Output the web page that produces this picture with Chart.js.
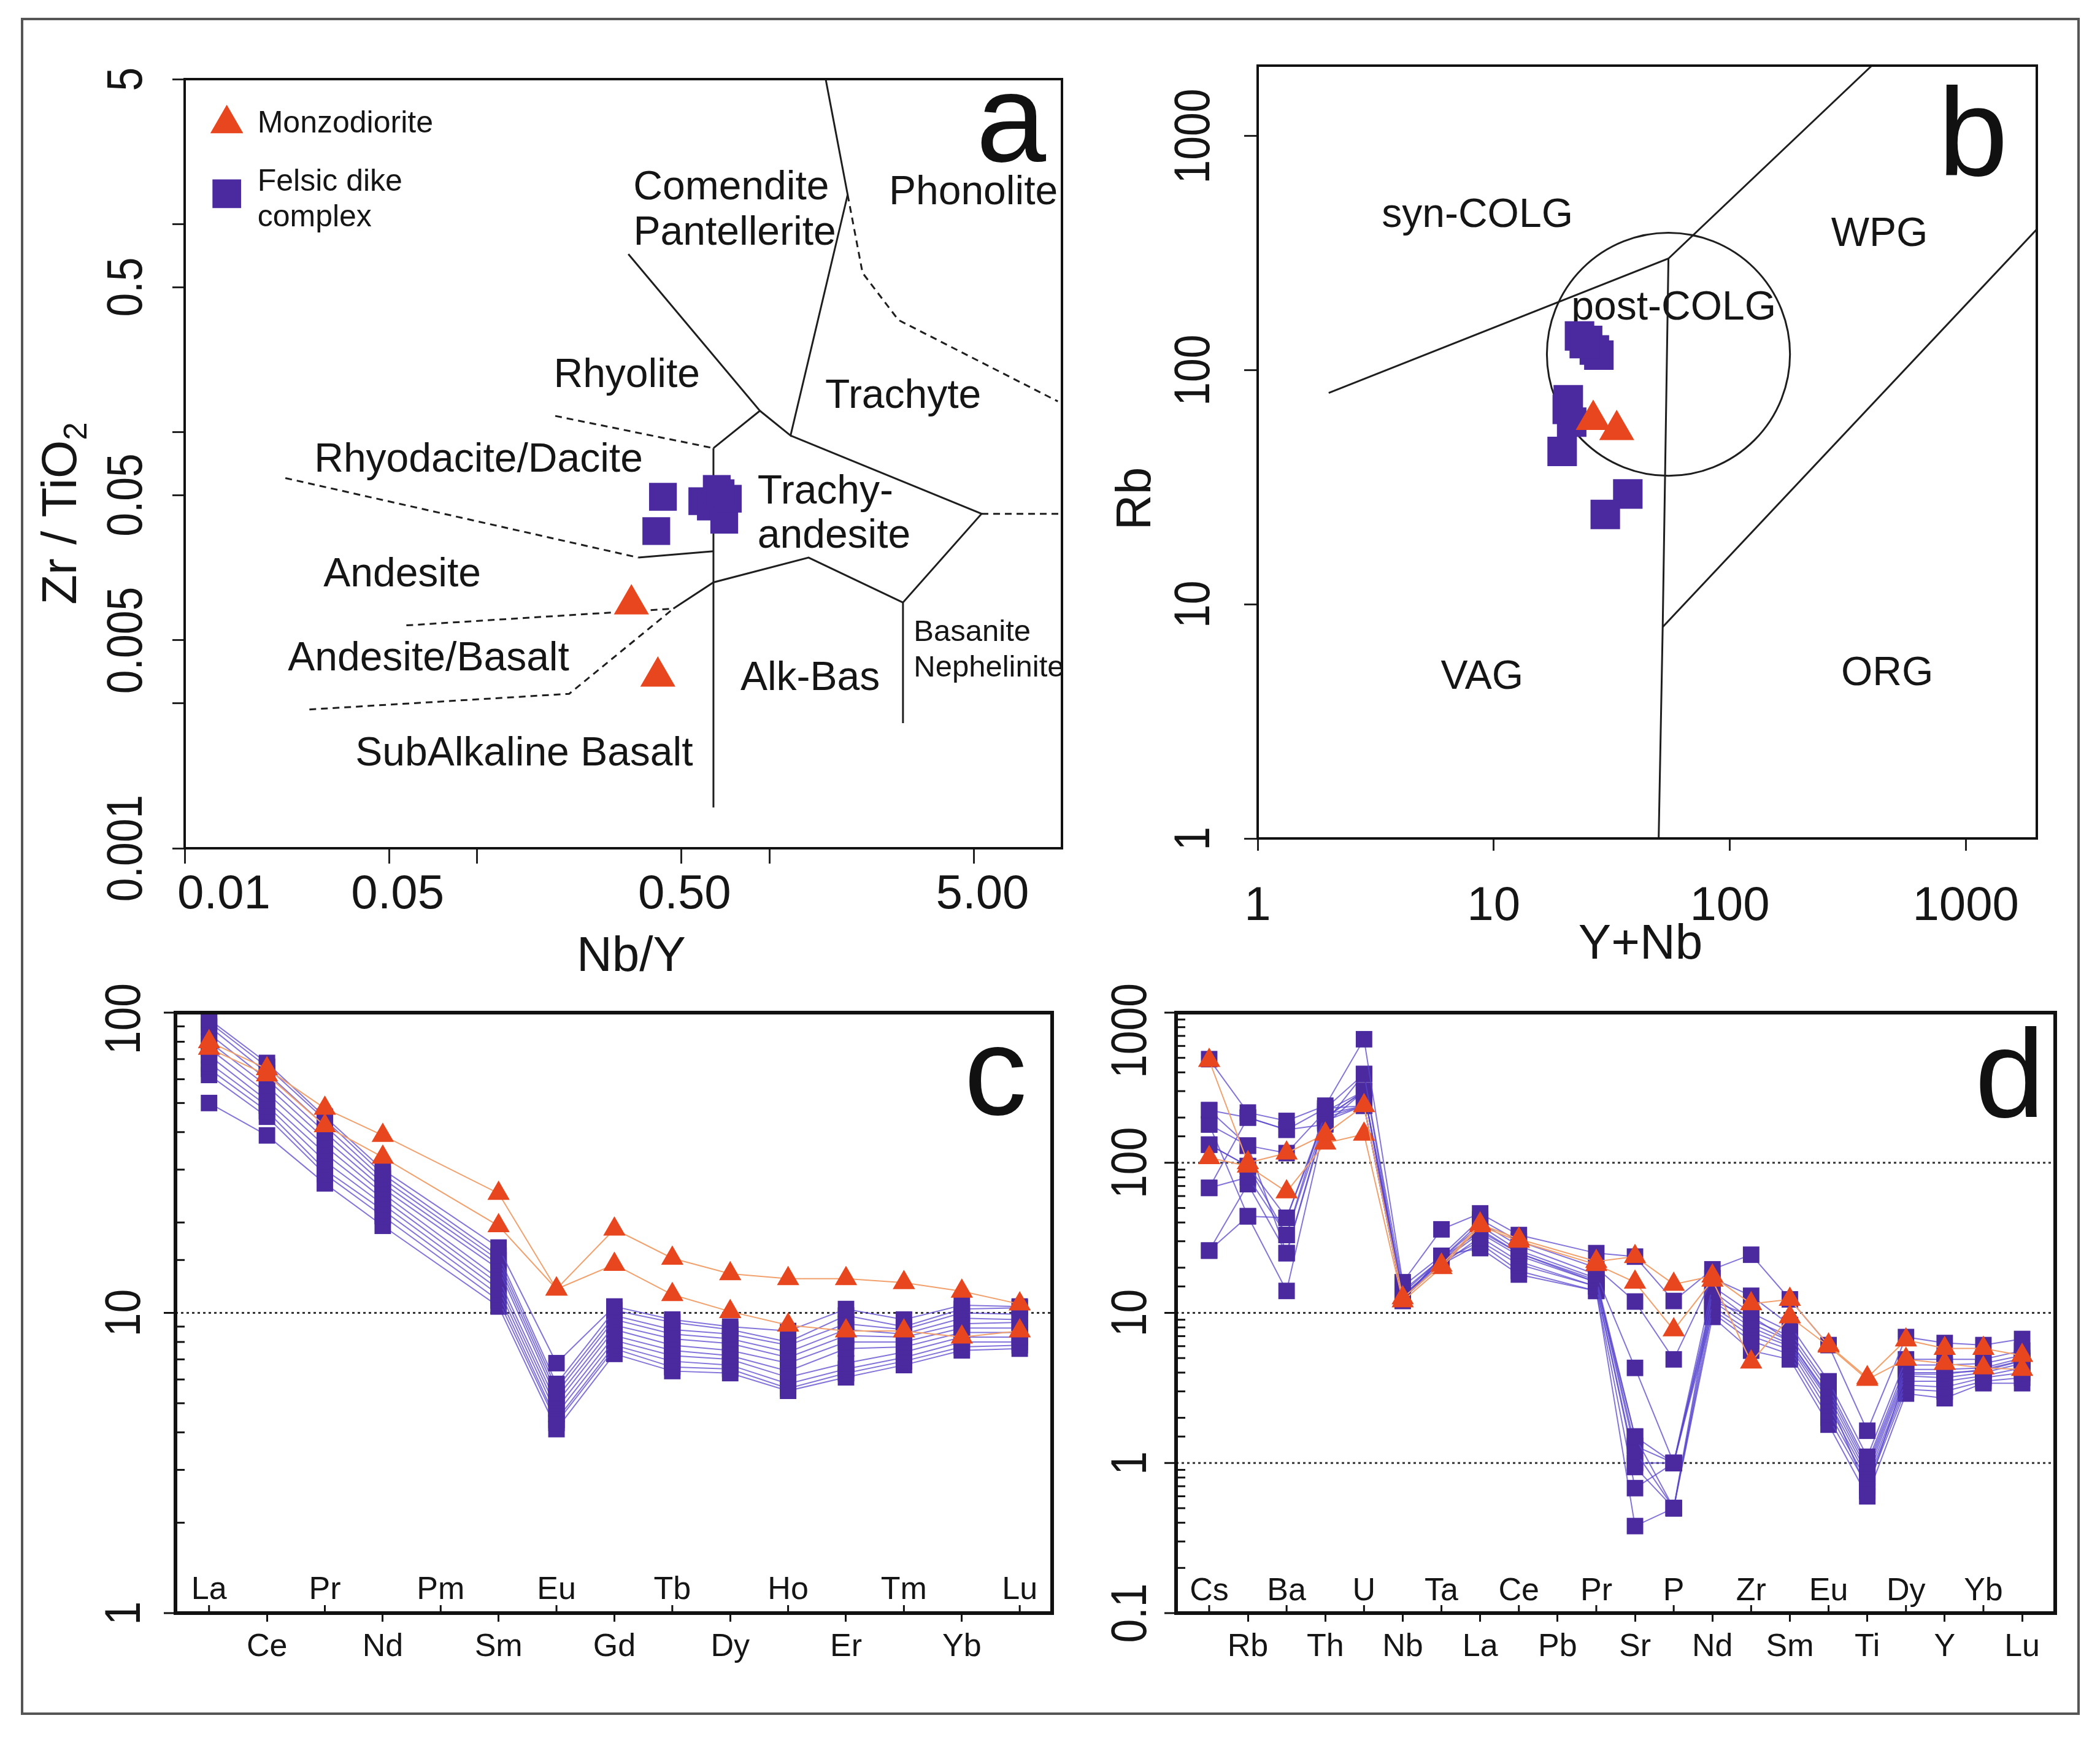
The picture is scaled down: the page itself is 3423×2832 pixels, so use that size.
<!DOCTYPE html>
<html>
<head>
<meta charset="utf-8">
<script src="https://cdn.jsdelivr.net/npm/chart.js@4.4.1/dist/chart.umd.min.js"></script>
<style>
  html, body { margin: 0; padding: 0; background: #fff; }
  body { width: 3423px; height: 2832px; position: relative; overflow: hidden; }
  #frame { position: absolute; left: 34px; top: 29px; width: 3356px; height: 2767px; border: 4px solid #555; box-sizing: border-box; }
  .panel { position: absolute; }
</style>
</head>
<body>
<div id="frame"></div>
<div class="panel" style="left:40px;top:40px;width:1740px;height:1560px"><canvas id="chartA"></canvas></div>
<div class="panel" style="left:1790px;top:40px;width:1600px;height:1560px"><canvas id="chartB"></canvas></div>
<div class="panel" style="left:40px;top:1520px;width:1760px;height:1270px"><canvas id="chartC"></canvas></div>
<div class="panel" style="left:1800px;top:1520px;width:1588px;height:1270px"><canvas id="chartD"></canvas></div>
<script>
// ---- panel a: Zr/TiO2 vs Nb/Y ----
const nbyMonzodiorite = [0.337, 0.415];
const zrtiMonzodiorite = [0.0149, 0.0067];
const nbyFelsic = [0.432, 0.41, 0.589, 0.63, 0.66, 0.70, 0.72, 0.68];
const zrtiFelsic = [0.049, 0.0335, 0.0467, 0.044, 0.0535, 0.038, 0.048, 0.051];
const aTickX = [0.01, 0.05, 0.1, 0.5, 1, 5];
const aTickXText = ["0.01", "0.05", "", "0.50", "", "5.00"];
const aTickY = [0.001, 0.005, 0.01, 0.05, 0.1, 0.5, 1, 5];
const aTickYText = ["0.001", "", "0.005", "0.05", "", "0.5", "", "5"];
// field boundaries, [Nb/Y, Zr/TiO2]
const aSolid = [
  [[0.643, 0.084], [0.643, 0.00157]],
  [[0.329, 0.72], [0.927, 0.127], [0.643, 0.084]],
  [[0.927, 0.127], [1.18, 0.0966], [1.85, 1.39], [1.556, 5]],
  [[1.18, 0.0966], [5.31, 0.0406], [2.86, 0.0152], [2.86, 0.004]],
  [[2.86, 0.0152], [1.36, 0.025], [0.643, 0.019], [0.469, 0.0142]],
  [[0.643, 0.0268], [0.356, 0.025]],
];
const aDashed = [
  [[0.185, 0.12], [0.643, 0.084]],
  [[0.0221, 0.0603], [0.356, 0.025]],
  [[0.0573, 0.0118], [0.469, 0.0142]],
  [[0.0267, 0.00465], [0.2065, 0.00553], [0.469, 0.0142]],
  [[1.85, 1.39], [2.08, 0.585], [2.76, 0.347], [9.68, 0.141]],
  [[5.31, 0.0406], [10, 0.0406]],
];

// ---- panel b: Rb vs Y+Nb ----
const ynbMonzodiorite = [26.4, 33.2];
const rbMonzodiorite = [61.4, 55.6];
const ynbFelsic = [23.1, 25, 26.7, 27.9, 24.2, 20.7, 21.4, 19.5, 37, 29.7, 20.5];
const rbFelsic = [140, 134, 122, 116, 130, 74.8, 60, 45, 29.6, 24.2, 68];
const bTicks = [1, 10, 100, 1000];
const bLines = [
  [[2, 80], [55, 300], [400, 2000]],
  [[55, 300], [52, 8], [50, 1]],
  [[52, 8], [2000, 400]],
];
const postColg = { x: 55, y: 117, r: 0.515 };

// ---- panel c: chondrite-normalised REE ----
const reeElements = ["La", "Ce", "Pr", "Nd", "Pm", "Sm", "Eu", "Gd", "Tb", "Dy", "Ho", "Er", "Tm", "Yb", "Lu"];
const reeMonzodiorite = [
  [80, 65, 48, 39, null, 25, 12, 19, 15.2, 13.5, 13, 13, 12.6, 11.8, 10.7],
  [76, 62, 42, 33, null, 19.5, 12, 14.5, 11.5, 10.1, 9.1, 8.7, 8.7, 8.3, 8.7],
];
const reeFelsic = [
  [95, 68, 45, 30, null, 16.5, 6.8, 10.5, 9.5, 9.0, 8.7, 10.3, 9.5, 10.6, 10.5],
  [93, 66, 44, 29, null, 15.5, 5.8, 10.2, 9.3, 8.8, 8.0, 9.8, 9.0, 10.3, 10.4],
  [90, 63, 42, 28, null, 15, 5.6, 9.8, 8.8, 8.5, 7.8, 9.2, 8.8, 10.0, 9.9],
  [85, 60, 40, 27, null, 14.5, 5.4, 9.5, 8.5, 8.2, 7.4, 8.8, 8.5, 9.6, 9.5],
  [80, 57, 38, 26, null, 14, 5.2, 9.1, 8.2, 7.9, 7.1, 8.4, 8.3, 9.2, 9.3],
  [76, 54, 36, 25, null, 13, 5.0, 8.8, 7.8, 7.5, 6.8, 8.0, 8.0, 8.9, 8.9],
  [72, 51, 34, 24, null, 12.5, 4.8, 8.4, 7.5, 7.2, 6.4, 7.6, 7.7, 8.6, 8.6],
  [68, 49, 32, 23, null, 12, 4.6, 8.1, 7.2, 7.0, 6.1, 6.8, 7.4, 8.3, 8.3],
  [65, 47, 30, 22, null, 11.5, 4.4, 7.8, 6.9, 6.7, 5.8, 6.5, 7.1, 8.0, 8.0],
  [62, 45, 29, 21, null, 11, 4.3, 7.6, 6.6, 6.5, 5.6, 6.3, 6.9, 7.7, 7.8],
  [50, 39, 27, 19.5, null, 10.5, 4.1, 7.3, 6.4, 6.3, 5.5, 6.1, 6.7, 7.5, 7.6],
];
const cTickY = [1, 10, 100];
const cTickYText = ["1", "10", "100"];

// ---- panel d: primitive-mantle spider diagram ----
const spiderElements = ["Cs", "Rb", "Ba", "Th", "U", "Nb", "Ta", "La", "Ce", "Pb", "Pr", "Sr", "P", "Nd", "Zr", "Sm", "Eu", "Ti", "Dy", "Y", "Yb", "Lu"];
const spiderMonzodiorite = [
  [480, 100, 116, 155, 240, 12.6, 20.8, 39, 31, null, 22, 23.7, 15.5, 17.6, 11.5, 12.3, 6.1, 3.7, 6.6, 5.8, 5.8, 5.2],
  [108, 95, 64, 135, 155, 12, 20, 38, 30, null, 21, 16, 7.7, 16.5, 4.7, 9.4, 6.0, 3.6, 4.9, 4.6, 4.3, 4.2],
];
const spiderFelsic = [
  [490, 216, 190, 240, 665, 16, 36, 46, 33, null, 25, 23.7, 12, 19.5, 24.4, 12.3, 6.1, 1.64, 6.9, 6.3, 6.1, 6.7],
  [224, 200, 166, 230, 390, 15, 24, 42, 30, null, 20, 11.9, 4.9, 17, 13, 8.3, 3.5, 1.1, 4.9, 4.9, 4.9, 5.6],
  [180, 130, 116, 220, 300, 14, 23, 40, 28, null, 18, 4.3, 1.0, 15, 10, 7.5, 3.2, 1.0, 4.5, 4.5, 4.6, 5.2],
  [132, 95, 43, 210, 240, 13.5, 23, 38, 26, null, 17, 1.5, 0.5, 14, 9, 7, 3.0, 0.95, 4.2, 4.2, 4.3, 5.0],
  [68, 80, 33, 200, 300, 13, 22, 36, 25, null, 16.5, 1.3, 1.0, 13, 8.5, 6.5, 2.8, 0.9, 4.0, 4.0, 4.1, 4.8],
  [26, 72, 25, 190, 240, 12.5, 22, 34, 24, null, 16, 1.2, 0.5, 12, 8, 6.2, 2.6, 0.85, 3.8, 3.7, 4.0, 4.6],
  [180, 44, 14, 185, 390, 12.5, 21, 32, 22, null, 15, 1.0, 1.0, 11, 7.5, 6, 2.4, 0.8, 3.5, 3.5, 3.8, 4.3],
  [224, 130, 25, 200, 300, 13, 22, 30, 21, null, 15, 0.94, 0.5, 10.5, 7, 5.7, 2.2, 0.75, 3.3, 3.2, 3.7, 4.0],
  [132, 95, 33, 230, 240, 12.5, 21, 29, 19, null, 14, 0.68, 1.0, 10, 6.5, 5.3, 2.0, 0.7, 3.1, 3.0, 3.5, 3.7],
  [68, 200, 166, 180, 300, 12, 24, 27, 18, null, 14, 0.38, 0.5, 9.4, 5.6, 4.9, 1.8, 0.6, 2.9, 2.7, 3.4, 3.4],
  [26, 44, 43, 200, 240, 12.5, 23, 35, 25, null, 16, 1.5, 1.0, 12, 9.5, 6.5, 2.7, 0.65, 3.9, 3.9, 4.2, 4.8],
];
const dTickY = [0.1, 1, 10, 100, 1000];
const dTickYText = ["0.1", "1", "10", "100", "1000"];

const PURPLE = "#4a2a9e";
const ORANGE = "#e8461e";
const PURPLE_LINE = "rgba(88, 70, 205, 0.75)";
const ORANGE_LINE = "#f2a06c";
const FONT = "'Liberation Sans', Arial, Helvetica, sans-serif";
const INK = "#151515";

function pairs(xs, ys) {
  return xs.map((v, i) => ({ x: v, y: ys[i] }));
}
function profile(vals) {
  return vals.map((v, i) => ({ x: i, y: v }));
}
function boundary(line, dashed) {
  return {
    data: line.map((p) => ({ x: p[0], y: p[1] })),
    showLine: true,
    pointRadius: 0,
    borderColor: "#1e1e1e",
    borderWidth: 3,
    borderDash: dashed ? [11, 8] : [],
    tension: 0,
  };
}
function markers(data, style, color, r) {
  return {
    data: data,
    pointStyle: style,
    pointRadius: r,
    pointHoverRadius: r,
    backgroundColor: color,
    borderColor: color,
    pointBorderWidth: 0,
    showLine: false,
  };
}
function sampleLine(vals, style, color, lineColor, r) {
  return {
    data: profile(vals),
    showLine: true,
    spanGaps: true,
    pointStyle: style,
    pointRadius: r,
    pointHoverRadius: r,
    pointBackgroundColor: color,
    pointBorderColor: color,
    pointBorderWidth: 0,
    borderColor: lineColor,
    borderWidth: 2,
    tension: 0,
  };
}
function text(ctx, t, x, y, size, align) {
  ctx.font = size + "px " + FONT;
  ctx.fillStyle = INK;
  ctx.textAlign = align || "center";
  ctx.textBaseline = "middle";
  ctx.fillText(t, x, y);
}
function isPow10(v) {
  const l = Math.log10(v);
  return Math.abs(l - Math.round(l)) < 1e-6;
}

// draws frame, rotated y labels, titles, region names, legend etc.
function makeDecor(o) {
  return {
    id: "decor",
    beforeDatasetsDraw(chart) {
      const { ctx, chartArea: a } = chart;
      const x = chart.scales.x, y = chart.scales.y;
      ctx.save();
      if (o.dotted) {
        ctx.setLineDash([4, 5]);
        ctx.lineWidth = 3;
        ctx.strokeStyle = "#333";
        o.dotted.forEach((v) => {
          const py = y.getPixelForValue(v);
          ctx.beginPath();
          ctx.moveTo(a.left, py);
          ctx.lineTo(a.right, py);
          ctx.stroke();
        });
        ctx.setLineDash([]);
      }
      if (o.circle) {
        const cx = x.getPixelForValue(o.circle.x);
        const cy = y.getPixelForValue(o.circle.y);
        const r = x.getPixelForValue(o.circle.x * Math.pow(10, o.circle.r)) - cx;
        ctx.lineWidth = 3;
        ctx.strokeStyle = "#1e1e1e";
        ctx.beginPath();
        ctx.arc(cx, cy, r, 0, Math.PI * 2);
        ctx.stroke();
      }
      (o.texts || []).forEach((t) => {
        text(ctx, t.t, a.left + t.fx * a.width, a.top + t.fy * a.height, t.size || 66, t.align);
      });
      ctx.restore();
    },
    afterDraw(chart) {
      const { ctx, chartArea: a } = chart;
      const x = chart.scales.x, y = chart.scales.y;
      ctx.save();
      // frame
      ctx.lineWidth = o.frame;
      ctx.strokeStyle = "#111";
      ctx.strokeRect(a.left, a.top, a.width, a.height);

      // log minor ticks inward, decades outward
      if (o.logTicks) {
        ctx.lineWidth = 3;
        ctx.strokeStyle = "#111";
        y.ticks.forEach((t) => {
          const py = y.getPixelForValue(t.value);
          ctx.beginPath();
          if (isPow10(t.value)) {
            ctx.moveTo(a.left - 19, py);
            ctx.lineTo(a.left, py);
          } else {
            ctx.moveTo(a.left, py);
            ctx.lineTo(a.left + 15, py);
          }
          ctx.stroke();
        });
      }

      // category labels sitting inside the plot (every other element)
      if (o.inner) {
        ctx.lineWidth = 3;
        ctx.strokeStyle = "#111";
        o.inner.labels.forEach((lab, i) => {
          if (i % 2 !== 0) return;
          const px = x.getPixelForValue(i);
          ctx.beginPath();
          ctx.moveTo(px, a.bottom);
          ctx.lineTo(px, a.bottom - 13);
          ctx.stroke();
          text(ctx, lab, px, a.bottom + o.inner.dy, o.inner.size);
        });
      }

      // x tick labels with the small offsets of the original
      if (o.xLabels) {
        o.xLabels.vals.forEach((v, i) => {
          const t = o.xLabels.text[i];
          if (!t) return;
          text(ctx, t, x.getPixelForValue(v) + o.xLabels.dx[i], a.bottom + o.xLabels.dy, o.xLabels.size);
        });
      }

      // rotated (and slightly condensed) y tick labels
      if (o.yTicks) {
        const sz = o.yTicks.size, sq = 0.85;
        o.yTicks.vals.forEach((v, i) => {
          const t = o.yTicks.text[i];
          if (!t) return;
          ctx.font = sz + "px " + FONT;
          const half = ctx.measureText(t).width * sq / 2;
          let py = y.getPixelForValue(v);
          py = Math.max(py, a.top - 48 + half);
          ctx.save();
          ctx.translate(a.left + o.yTicks.dx, py);
          ctx.rotate(-Math.PI / 2);
          ctx.scale(sq, 1);
          text(ctx, t, 0, 0, sz);
          ctx.restore();
        });
      }

      if (o.xTitle) text(ctx, o.xTitle.t, o.xTitle.x, o.xTitle.y, o.xTitle.size);
      if (o.yTitle) {
        ctx.save();
        ctx.translate(o.yTitle.x, o.yTitle.y);
        ctx.rotate(-Math.PI / 2);
        ctx.font = o.yTitle.size + "px " + FONT;
        const w1 = ctx.measureText(o.yTitle.t).width;
        let w2 = 0;
        const subSize = Math.round(o.yTitle.size * 0.66);
        if (o.yTitle.sub) {
          ctx.font = subSize + "px " + FONT;
          w2 = ctx.measureText(o.yTitle.sub).width;
        }
        const start = -(w1 + w2) / 2;
        text(ctx, o.yTitle.t, start, 0, o.yTitle.size, "left");
        if (o.yTitle.sub) text(ctx, o.yTitle.sub, start + w1, o.yTitle.size * 0.3, subSize, "left");
        ctx.restore();
      }

      if (o.letter) {
        ctx.font = o.letter.size + "px " + FONT;
        ctx.fillStyle = "#111";
        ctx.textAlign = "right";
        ctx.textBaseline = "alphabetic";
        ctx.fillText(o.letter.t, a.right - o.letter.dx, a.top + o.letter.dy);
      }

      (o.legend || []).forEach((it) => {
        ctx.fillStyle = it.color;
        Chart.helpers.drawPoint(ctx, { pointStyle: it.style, radius: it.r, borderWidth: 0, rotation: 0 },
          a.left + it.fx * a.width, a.top + it.fy * a.height);
        it.lines.forEach((ln) => {
          text(ctx, ln.t, a.left + it.tx * a.width, a.top + ln.fy * a.height, 50, "left");
        });
      });
      ctx.restore();
    },
  };
}

const common = {
  responsive: true,
  maintainAspectRatio: false,
  animation: false,
  events: [],
};
const noLegend = { legend: { display: false }, tooltip: { enabled: false } };

// ---------- chart a ----------
new Chart(document.getElementById("chartA"), {
  type: "scatter",
  data: {
    datasets: [
      markers(pairs(nbyMonzodiorite, zrtiMonzodiorite), "triangle", ORANGE, 33),
      markers(pairs(nbyFelsic, zrtiFelsic), "rect", PURPLE, 32),
      ...aSolid.map((l) => boundary(l, false)),
      ...aDashed.map((l) => boundary(l, true)),
    ],
  },
  options: {
    ...common,
    layout: { padding: { top: 89, right: 49, left: 0, bottom: 0 } },
    plugins: noLegend,
    scales: {
      x: {
        type: "logarithmic", min: 0.01, max: 10, bounds: "data",
        afterBuildTicks: (s) => { s.ticks = aTickX.map((v) => ({ value: v })); },
        afterFit: (s) => { s.height = 217; },
        ticks: { display: false },
        grid: { drawOnChartArea: false, tickLength: 25, tickWidth: 3, tickColor: "#222" },
        border: { display: false },
      },
      y: {
        type: "logarithmic", min: 0.001, max: 5, bounds: "data",
        afterBuildTicks: (s) => { s.ticks = aTickY.map((v) => ({ value: v })); },
        afterFit: (s) => { s.width = 261; },
        ticks: { display: false },
        grid: { drawOnChartArea: false, tickLength: 20, tickWidth: 3, tickColor: "#222" },
        border: { display: false },
      },
    },
  },
  plugins: [makeDecor({
    frame: 4,
    letter: { t: "a", dx: 26, dy: 134, size: 205 },
    xTitle: { t: "Nb/Y", x: 989, y: 1521, size: 80 },
    yTitle: { t: "Zr / TiO", sub: "2", x: 62, y: 797, size: 80 },
    xLabels: { vals: aTickX, text: aTickXText, dx: [64, 14, 0, 5, 0, 14], dy: 76, size: 78 },
    yTicks: { vals: aTickY, text: aTickYText, dx: -93, size: 82 },
    texts: [
      { t: "Comendite", fx: 0.623, fy: 0.142 },
      { t: "Pantellerite", fx: 0.627, fy: 0.201 },
      { t: "Phonolite", fx: 0.899, fy: 0.148 },
      { t: "Rhyolite", fx: 0.504, fy: 0.386 },
      { t: "Trachyte", fx: 0.819, fy: 0.413 },
      { t: "Rhyodacite/Dacite", fx: 0.335, fy: 0.496 },
      { t: "Trachy-", fx: 0.653, fy: 0.537, align: "left" },
      { t: "andesite", fx: 0.653, fy: 0.595, align: "left" },
      { t: "Andesite", fx: 0.248, fy: 0.645 },
      { t: "Andesite/Basalt", fx: 0.278, fy: 0.754 },
      { t: "Alk-Bas", fx: 0.713, fy: 0.780 },
      { t: "Basanite", fx: 0.831, fy: 0.720, size: 49, align: "left" },
      { t: "Nephelinite", fx: 0.831, fy: 0.766, size: 49, align: "left" },
      { t: "SubAlkaline Basalt", fx: 0.387, fy: 0.878 },
    ],
    legend: [
      { style: "triangle", color: ORANGE, r: 31, fx: 0.048, fy: 0.058, tx: 0.083, lines: [{ t: "Monzodiorite", fy: 0.058 }] },
      { style: "rect", color: PURPLE, r: 33, fx: 0.048, fy: 0.149, tx: 0.083, lines: [{ t: "Felsic dike", fy: 0.134 }, { t: "complex", fy: 0.180 }] },
    ],
  })],
});

// ---------- chart b ----------
new Chart(document.getElementById("chartB"), {
  type: "scatter",
  data: {
    datasets: [
      markers(pairs(ynbMonzodiorite, rbMonzodiorite), "triangle", ORANGE, 33),
      markers(pairs(ynbFelsic, rbFelsic), "rect", PURPLE, 34),
      ...bLines.map((l) => boundary(l, false)),
    ],
  },
  options: {
    ...common,
    layout: { padding: { top: 67, right: 70, left: 0, bottom: 0 } },
    plugins: noLegend,
    scales: {
      x: {
        type: "logarithmic", min: 1, max: 2000, bounds: "data",
        afterBuildTicks: (s) => { s.ticks = bTicks.map((v) => ({ value: v })); },
        afterFit: (s) => { s.height = 233; },
        ticks: {
          autoSkip: false, maxRotation: 0, minRotation: 0, padding: 45, color: INK,
          font: { size: 78, family: FONT },
          callback: (v) => String(v),
        },
        grid: { drawOnChartArea: false, tickLength: 20, tickWidth: 3, tickColor: "#222" },
        border: { display: false },
      },
      y: {
        type: "logarithmic", min: 1, max: 2000, bounds: "data",
        afterBuildTicks: (s) => { s.ticks = bTicks.map((v) => ({ value: v })); },
        afterFit: (s) => { s.width = 260; },
        ticks: { display: false },
        grid: { drawOnChartArea: false, tickLength: 22, tickWidth: 3, tickColor: "#222" },
        border: { display: false },
      },
    },
  },
  plugins: [makeDecor({
    frame: 4,
    letter: { t: "b", dx: 47, dy: 179, size: 205 },
    xTitle: { t: "Y+Nb", x: 884, y: 1501, size: 80 },
    yTitle: { t: "Rb", x: 63, y: 773, size: 80 },
    yTicks: { vals: bTicks, text: bTicks.map(String), dx: -102, size: 82 },
    circle: postColg,
    texts: [
      { t: "syn-COLG", fx: 0.282, fy: 0.194 },
      { t: "WPG", fx: 0.798, fy: 0.219 },
      { t: "post-COLG", fx: 0.534, fy: 0.314 },
      { t: "VAG", fx: 0.288, fy: 0.792 },
      { t: "ORG", fx: 0.808, fy: 0.787 },
    ],
  })],
});

// ---------- chart c ----------
new Chart(document.getElementById("chartC"), {
  type: "scatter",
  data: {
    datasets: [
      ...reeMonzodiorite.map((s) => sampleLine(s, "triangle", ORANGE, ORANGE_LINE, 21)),
      ...reeFelsic.map((s) => sampleLine(s, "rect", PURPLE, PURPLE_LINE, 19)),
    ],
  },
  options: {
    ...common,
    layout: { padding: { top: 131, right: 85, left: 0, bottom: 0 } },
    plugins: noLegend,
    scales: {
      x: {
        type: "linear", min: -0.58, max: 14.56, bounds: "data",
        afterBuildTicks: (s) => { s.ticks = reeElements.map((e, i) => ({ value: i })); },
        afterFit: (s) => { s.height = 160; },
        ticks: {
          autoSkip: false, maxRotation: 0, minRotation: 0, padding: 10, color: INK,
          font: { size: 52, family: FONT },
          callback: (v) => (v % 2 === 1 ? reeElements[v] : ""),
        },
        grid: {
          drawOnChartArea: false, tickLength: 14, tickWidth: 3,
          tickColor: (c) => (c.index % 2 === 1 ? "#111" : "rgba(0,0,0,0)"),
        },
        border: { display: false },
      },
      y: {
        type: "logarithmic", min: 1, max: 100, bounds: "data",
        afterFit: (s) => { s.width = 246; },
        ticks: { display: false },
        grid: { display: false },
        border: { display: false },
      },
    },
  },
  plugins: [makeDecor({
    frame: 6,
    logTicks: true,
    dotted: [10],
    letter: { t: "c", dx: 41, dy: 166, size: 205 },
    yTicks: { vals: cTickY, text: cTickYText, dx: -81, size: 82 },
    inner: { labels: reeElements, dy: -37, size: 52 },
  })],
});

// ---------- chart d ----------
new Chart(document.getElementById("chartD"), {
  type: "scatter",
  data: {
    datasets: [
      ...spiderMonzodiorite.map((s) => sampleLine(s, "triangle", ORANGE, ORANGE_LINE, 21)),
      ...spiderFelsic.map((s) => sampleLine(s, "rect", PURPLE, PURPLE_LINE, 19)),
    ],
  },
  options: {
    ...common,
    layout: { padding: { top: 131, right: 38, left: 0, bottom: 0 } },
    plugins: noLegend,
    scales: {
      x: {
        type: "linear", min: -0.855, max: 21.855, bounds: "data",
        afterBuildTicks: (s) => { s.ticks = spiderElements.map((e, i) => ({ value: i })); },
        afterFit: (s) => { s.height = 160; },
        ticks: {
          autoSkip: false, maxRotation: 0, minRotation: 0, padding: 10, color: INK,
          font: { size: 52, family: FONT },
          callback: (v) => (v % 2 === 1 ? spiderElements[v] : ""),
        },
        grid: {
          drawOnChartArea: false, tickLength: 14, tickWidth: 3,
          tickColor: (c) => (c.index % 2 === 1 ? "#111" : "rgba(0,0,0,0)"),
        },
        border: { display: false },
      },
      y: {
        type: "logarithmic", min: 0.1, max: 1000, bounds: "data",
        afterFit: (s) => { s.width = 117; },
        ticks: { display: false },
        grid: { display: false },
        border: { display: false },
      },
    },
  },
  plugins: [makeDecor({
    frame: 6,
    logTicks: true,
    dotted: [1, 10, 100],
    letter: { t: "d", dx: 17, dy: 170, size: 205 },
    yTicks: { vals: dTickY, text: dTickYText, dx: -72, size: 82 },
    inner: { labels: spiderElements, dy: -35, size: 52 },
  })],
});
</script>
</body>
</html>
